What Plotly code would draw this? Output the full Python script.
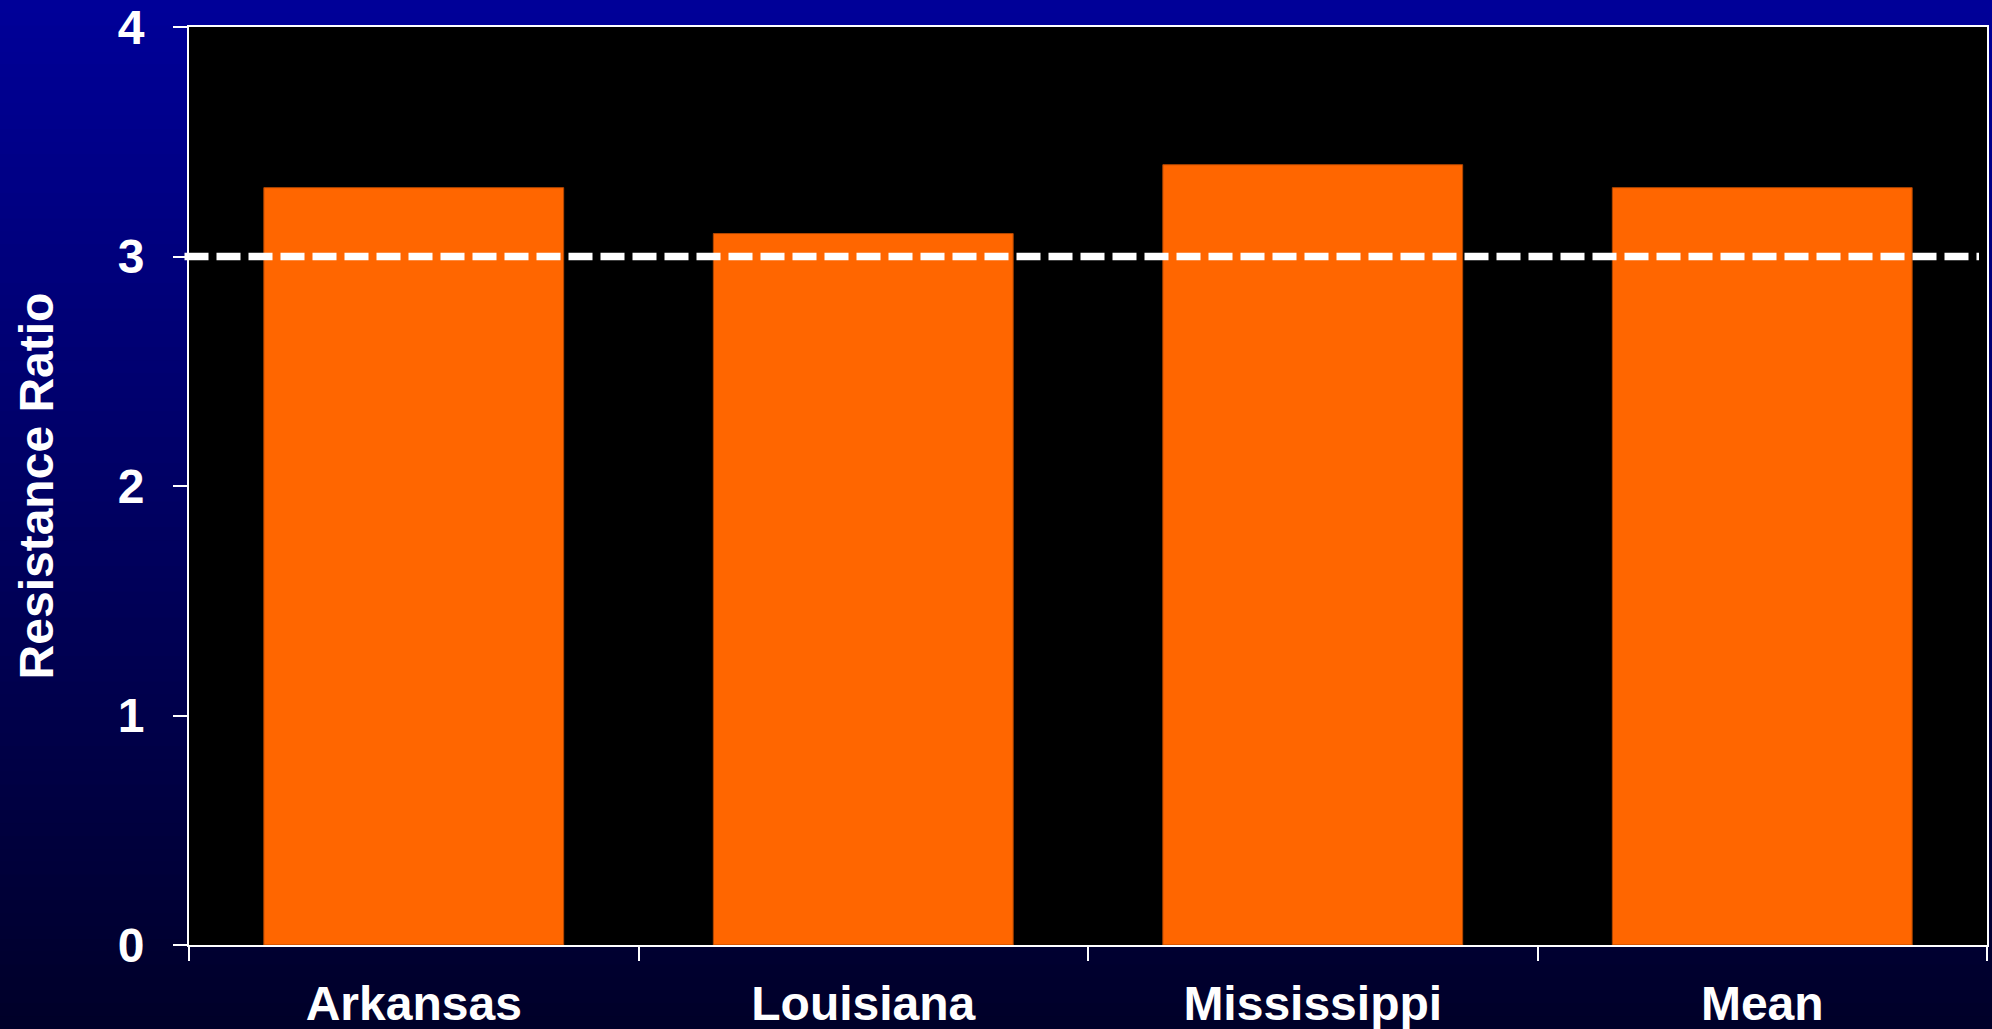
import plotly.graph_objects as go

categories = ["Arkansas", "Louisiana", "Mississippi", "Mean"]
resistance_ratio = [3.3, 3.1, 3.4, 3.3]
threshold = 3
y_ticks = [0, 1, 2, 3, 4]

W, H = 1992, 1029
ML, MR, MT, MB = 189, 5, 27, 84
PW, PH = W - ML - MR, H - MT - MB

FONT = "Liberation Sans, Arial, sans-serif"
FS = 48

fig = go.Figure()
fig.add_trace(go.Bar(
    x=categories, y=resistance_ratio,
    marker=dict(color="#FF6600", line=dict(color="#B34700", width=1)),
    width=0.667,
    hoverinfo="x+y",
))

# background gradient (paper area)
shapes = []
n = 80
top = (0, 0, 153)
bot = (0, 0, 40)
x0p, x1p = -ML / PW, (W - ML) / PW
for i in range(n):
    f = (i + 0.5) / n
    c = tuple(round(top[k] + (bot[k] - top[k]) * f) for k in range(3))
    ytop = (H - MB - i * H / n) / PH
    ybot = (H - MB - (i + 1) * H / n) / PH
    shapes.append(dict(type="rect", xref="paper", yref="paper",
                       x0=x0p, x1=x1p, y0=ybot - 0.002, y1=ytop,
                       fillcolor="rgb(%d,%d,%d)" % c, line=dict(width=0),
                       layer="below"))
# black plot area
shapes.append(dict(type="rect", xref="x domain", yref="y domain",
                   x0=0, x1=1, y0=0, y1=1, fillcolor="black",
                   line=dict(width=0), layer="below"))
# dashed threshold line
shapes.append(dict(type="line", xref="paper", yref="y",
                   x0=-4.5 / PW, x1=(1979 - ML) / PW, y0=threshold, y1=threshold,
                   line=dict(color="white", width=7.5, dash="24px,8px"),
                   layer="above"))

fig.update_layout(
    width=W, height=H,
    margin=dict(l=ML, r=MR, t=MT, b=MB, autoexpand=False),
    paper_bgcolor="#000099",
    plot_bgcolor="black",
    shapes=shapes,
    showlegend=False,
    bargap=0.333,
    font=dict(family=FONT, color="white", size=FS, weight="bold"),
    xaxis=dict(
        showline=True, linecolor="white", linewidth=2, mirror=True,
        ticks="outside", ticklen=14, tickwidth=2, tickcolor="white",
        tickson="boundaries", showgrid=False, zeroline=False,
        tickfont=dict(family=FONT, size=FS, color="white", weight="bold"),
        ticklabelstandoff=15,
    ),
    yaxis=dict(
        range=[0, 4], tickvals=y_ticks,
        showline=True, linecolor="white", linewidth=2, mirror=True,
        ticks="outside", ticklen=14, tickwidth=2, tickcolor="white",
        showgrid=False, zeroline=False,
        tickfont=dict(family=FONT, size=FS, color="white", weight="bold"),
        ticklabelstandoff=19,
        title=dict(text="Resistance Ratio", standoff=49,
                   font=dict(family=FONT, size=FS, color="white", weight="bold")),
        automargin=False,
    ),
)

fig.write_html(
    "out.html",
    config={"displayModeBar": False},
    post_script="document.body.style.margin='0';document.body.style.overflow='hidden';",
)
